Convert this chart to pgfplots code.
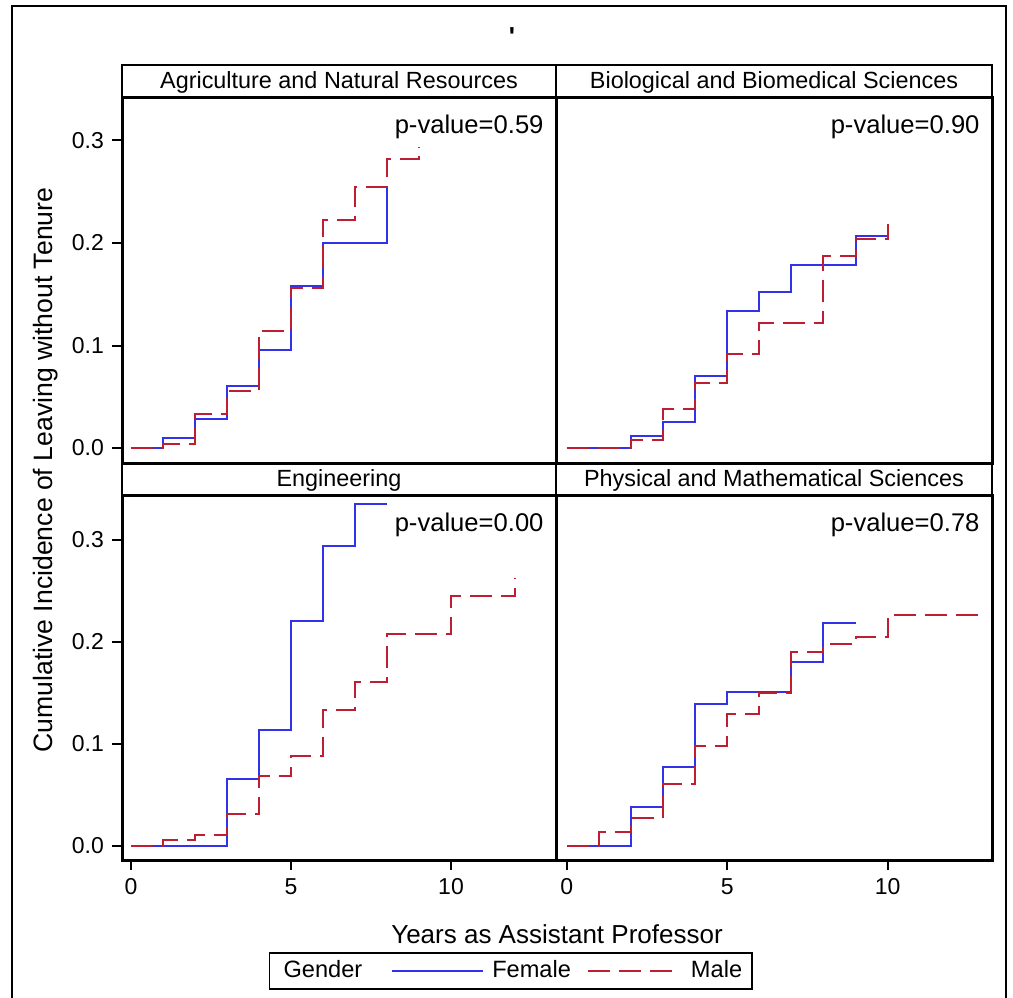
\documentclass[border=0pt]{standalone}
\usepackage{fontspec}
\setmainfont{Liberation Sans}
\newfontfamily\qfont{Liberation Sans}[Ligatures=TeXOff]
\usepackage{pgfplots}
\pgfplotsset{compat=1.18}
\newcommand\fs[1]{\fontsize{#1}{#1}\selectfont}
\definecolor{femblue}{RGB}{50,50,235}
\definecolor{malered}{RGB}{190,30,50}

\pgfplotsset{
  panel/.style={
    anchor=north west, scale only axis,
    line width=1.5pt,
    axis line style={black, line width=1.5pt},
    tick style={black, line width=1pt},
    tick align=outside, major tick length=5pt,
    xtick pos=left, ytick pos=left,
    ticklabel style={font=\fs{11.5}},
    /pgf/number format/assume math mode=true,
    yticklabel style={/pgf/number format/.cd, fixed, fixed zerofill, precision=1},
    title style={at={(0.5,1)}, anchor=south, yshift=-6pt, draw=black, line width=1.2pt,
      outer sep=0pt, inner sep=0pt, minimum height=16pt, text height=8.4pt,
      text depth=0.9pt, font=\fs{11.7}},
  },
  leftcol/.style={panel, width=217pt, xmin=-0.281, xmax=13.281,
    ytick={0,0.1,0.2,0.3}, title style={minimum width=217pt}},
  rightcol/.style={panel, width=218pt, xmin=-0.333, xmax=13.25,
    ytick=\empty, title style={minimum width=218pt}},
  toprow/.style={height=183pt, ymin=-0.0146, ymax=0.3424, xtick=\empty},
  botrow/.style={height=182.5pt, ymin=-0.0140, ymax=0.3442, xtick={0,5,10}},
  fem/.style={const plot, color=femblue, line width=1pt,
    legend image code/.code={\draw[##1] (0pt,0pt) -- (45.5pt,0pt);}},
  male/.style={const plot, color=malered, line width=1pt, dash pattern=on 11pt off 4.5pt,
    legend image code/.code={\draw[##1] (0pt,0pt) -- (42pt,0pt); \path (47pt,0pt);}},
}
\newcommand\pval[1]{\node[anchor=base east, inner sep=0pt, font=\fs{12.8}, xshift=-5.5pt, yshift=-18pt] at (rel axis cs:1,1) {#1};}

\begin{document}
\begin{tikzpicture}

% top left
\begin{axis}[leftcol, toprow, at={(61pt,-48.5pt)}, title={Agriculture and Natural Resources}]
\addplot[fem] coordinates {(0,0) (1,0.0095) (2,0.028) (3,0.061) (4,0.096) (5,0.158) (6,0.200) (8,0.254)};
\addplot[male] coordinates {(0,0) (1,0.0036) (2,0.033) (3,0.056) (4,0.114) (5,0.156) (6,0.222) (7,0.255) (8,0.282) (9,0.294)};
\pval{p-value=0.59}
\end{axis}

% top right
\begin{axis}[rightcol, toprow, at={(278pt,-48.5pt)}, title={Biological and Biomedical Sciences}]
\addplot[fem] coordinates {(0,0) (2,0.0118) (3,0.0258) (4,0.0706) (5,0.1337) (6,0.152) (7,0.179) (9,0.207) (10,0.207)};
\addplot[male] coordinates {(0,0) (2,0.0075) (3,0.0376) (4,0.063) (5,0.0915) (6,0.122) (8,0.187) (9,0.204) (10,0.219)};
\pval{p-value=0.90}
\end{axis}

% bottom left
\begin{axis}[leftcol, botrow, at={(61pt,-247.5pt)}, title={Engineering},
  legend style={at={(0.896,-0.252)}, anchor=north, legend columns=3, draw=black,
    line width=0.8pt, font=\fs{11.8}, legend cell align=left,
    /tikz/every even column/.append style={column sep=6pt},
    /tikz/every odd column/.append style={column sep=2pt},
    /tikz/column 1/.append style={column sep=0pt}}]
\addlegendimage{empty legend}
\addlegendentry{Gender\rule{6.5pt}{0pt}}
\addplot[fem] coordinates {(0,0) (3,0.0657) (4,0.114) (5,0.221) (6,0.294) (7,0.335) (8,0.335)};
\addlegendentry{Female}
\addplot[male] coordinates {(0,0) (1,0.0059) (2,0.0101) (3,0.0307) (4,0.068) (5,0.088) (6,0.133) (7,0.161) (8,0.208) (10,0.245) (12,0.263)};
\addlegendentry{Male}
\pval{p-value=0.00}
\end{axis}

% bottom right
\begin{axis}[rightcol, botrow, at={(278pt,-247.5pt)}, title={Physical and Mathematical Sciences}]
\addplot[fem] coordinates {(0,0) (2,0.0376) (3,0.0768) (4,0.139) (5,0.151) (7,0.180) (8,0.219) (9,0.219)};
\addplot[male] coordinates {(0,0) (1,0.0131) (2,0.027) (3,0.061) (4,0.098) (5,0.129) (6,0.150) (7,0.190) (8,0.198) (9,0.205) (10,0.226) (13,0.226)};
\pval{p-value=0.78}
\end{axis}

\node[anchor=base, font=\fs{13}] at (278.5pt,-471.5pt) {Years as Assistant Professor};
\node[anchor=base, rotate=90, font=\fs{13.3}] at (26.5pt,-235pt) {Cumulative Incidence of Leaving without Tenure};
\node[anchor=base, font=\qfont\bfseries\fs{13}] at (256pt,-22.8pt) {'};
\draw[black, line width=1pt] (6pt,-510pt) -- (6pt,-3pt) -- (503pt,-3pt) -- (503pt,-510pt);

\pgfresetboundingbox
\path[use as bounding box] (0pt,0pt) rectangle (506.5pt,-498.5pt);
\end{tikzpicture}
\end{document}
